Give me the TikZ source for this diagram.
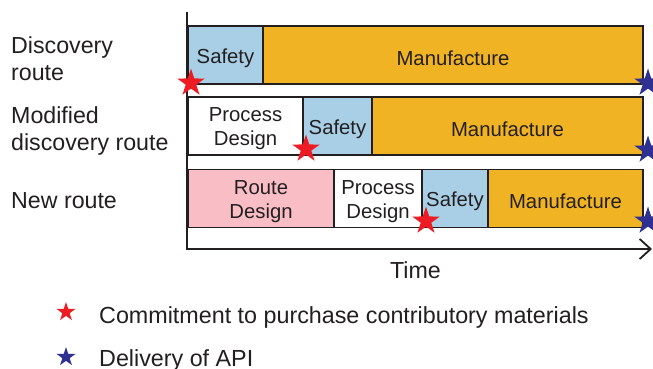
\documentclass[tikz,border=0pt]{standalone}
\usepackage{fontspec}
\setmainfont{Liberation Sans}
\usetikzlibrary{shapes.geometric,arrows.meta}
\definecolor{safetyc}{HTML}{A8CFE5}
\definecolor{manuc}{HTML}{EFB324}
\definecolor{routec}{HTML}{F8BDC5}
\definecolor{starred}{HTML}{ED1C24}
\definecolor{starblue}{HTML}{2E3192}
\definecolor{ink}{HTML}{231F20}
\newcommand\mybar[6]{%
  \node[bar, fill=#5, minimum width={(#3-#2)*1pt}, minimum height=58pt]
    (#1) at ({(#2+#3)/2},#4) {};
  \node[bartext] (#1t) at ([yshift=-3pt]#1.center) {#6};}
\begin{document}
\begin{tikzpicture}[x=1pt,y=-1pt,
  bar/.style={draw=ink, line width=1.2pt, inner sep=0pt},
  bartext/.style={inner sep=0pt, text=ink, align=center,
    font=\fontsize{20.3}{24}\selectfont},
  lab/.style={inner sep=0pt, text=ink, align=left, font=\fontsize{23.2}{27}\selectfont},
  legtext/.style={inner sep=0pt, text=ink, font=\fontsize{23.3}{27}\selectfont},
  mstar/.style={star, star points=5, star point ratio=2.6, inner sep=0pt, draw=none},
  axis/.style={draw=ink, line width=1.8pt}]
\useasboundingbox (0,0) rectangle (653,369);
\fill[white] (0,0) rectangle (653,369);
% axes
\coordinate (top) at (187,12);
\coordinate (orig) at (187,249);
\coordinate (end) at (652,249);
\draw[axis, -{Straight Barb[length=11pt,width=20pt,line width=1.8pt]}] (top) -- (orig) -- (end);
% row 1
\mybar{s1}{188}{263}{55}{safetyc}{Safety}
\mybar{m1}{263}{643}{55}{manuc}{Manufacture}
% row 2
\mybar{p2}{188}{303}{126}{white}{Process\\Design}
\mybar{s2}{303}{372}{126}{safetyc}{Safety}
\mybar{m2}{372}{643}{126}{manuc}{Manufacture}
% row 3
\mybar{r3}{188}{334}{198.5}{routec}{Route\\Design}
\mybar{p3}{334}{422}{198.5}{white}{Process\\Design}
\mybar{s3}{422}{488}{198.5}{safetyc}{Safety}
\mybar{m3}{488}{643}{198.5}{manuc}{Manufacture}
% stars
\node[mstar, fill=starred, minimum size=29pt] (rs1) at (191,83) {};
\node[mstar, fill=starred, minimum size=29pt] (rs2) at (306,149) {};
\node[mstar, fill=starred, minimum size=29pt] (rs3) at (426,221) {};
\node[mstar, fill=starblue, minimum size=29pt] (bs1) at (648,83) {};
\node[mstar, fill=starblue, minimum size=29pt] (bs2) at (648,150) {};
\node[mstar, fill=starblue, minimum size=29pt] (bs3) at (648,221) {};
% labels
\node[lab, anchor=base west] (l1) at (11,81) {Discovery\\route};
\node[lab, anchor=base west] (l2) at (11,150) {Modified\\discovery route};
\node[lab, anchor=base west] (l3) at (11,208) {New route};
\node[lab, anchor=base] (time) at (415.5,278) {Time};
% legend
\node[mstar, fill=starred, minimum size=20pt] (lr) at (66,312) {};
\node[mstar, fill=starblue, minimum size=20pt] (lb) at (66,357) {};
\node[legtext, anchor=base west] (t1) at (99,323) {Commitment to purchase contributory materials};
\node[legtext, anchor=base west] (t2) at (99,366) {Delivery of API};
\end{tikzpicture}
\end{document}
